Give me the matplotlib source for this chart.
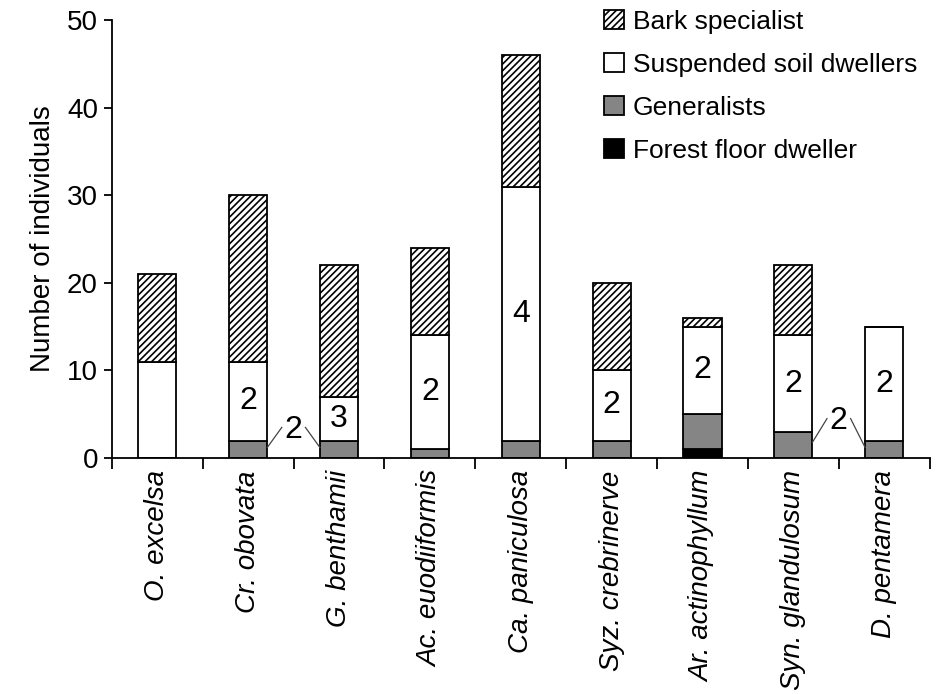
import numpy as np
import matplotlib
matplotlib.use("Agg")
import matplotlib.pyplot as plt

plt.rcParams['font.family'] = ['Liberation Sans', 'DejaVu Sans']
plt.rcParams['hatch.linewidth'] = 1.2

# Datos
especies = ["O. excelsa", "Cr. obovata", "G. benthamii", "Ac. euodiiformis",
            "Ca. paniculosa", "Syz. crebrinerve", "Ar. actinophyllum",
            "Syn. glandulosum", "D. pentamera"]
forest_floor = [0, 0, 0, 0, 0, 0, 1, 0, 0]
generalists = [0, 2, 2, 1, 2, 2, 4, 3, 2]
suspended = [11, 9, 5, 13, 29, 8, 10, 11, 13]
bark = [10, 19, 15, 10, 15, 10, 1, 8, 0]

# Numero de especies dentro del segmento de suelo suspendido
etiquetas_susp = ["", "2", "3", "2", "4", "2", "2", "2", "2"]
# Numero de especies compartido por dos barras de generalistas
etiquetas_gen = [(1, 2, "2"), (7, 8, "2")]

fig = plt.figure(figsize=(9.4, 6.94), dpi=100)
ax = fig.add_axes([0.119, 0.340, 0.870, 0.631])

x = np.arange(len(especies))
ancho = 0.42
ff = np.array(forest_floor)
gen = np.array(generalists)
sus = np.array(suspended)
bk = np.array(bark)

ax.bar(x, ff, ancho, color='black', edgecolor='black', linewidth=1.3,
       label='Forest floor dweller')
ax.bar(x, gen, ancho, bottom=ff, color='#858585', edgecolor='black',
       linewidth=1.3, label='Generalists')
ax.bar(x, sus, ancho, bottom=ff + gen, color='white', edgecolor='black',
       linewidth=1.3, label='Suspended soil dwellers')
ax.bar(x, bk, ancho, bottom=ff + gen + sus, color='white', edgecolor='black',
       linewidth=1.3, hatch='/////', label='Bark specialist')

# Numeros dentro de las barras
for i, txt in enumerate(etiquetas_susp):
    if txt:
        ymid = ff[i] + gen[i] + sus[i] / 2
        ax.text(x[i], ymid, txt, ha='center', va='center', fontsize=23)

# Numeros con lineas guia entre barras vecinas
for a, b, txt in etiquetas_gen:
    ya = ff[a] + gen[a] * 0.6
    yb = ff[b] + gen[b] * 0.6
    ymid = max(ff[a] + gen[a], ff[b] + gen[b]) + 1.2
    xm = (x[a] + x[b]) / 2
    ax.text(xm, ymid, txt, ha='center', va='center', fontsize=23)
    ax.plot([x[a] + ancho / 2, xm - 0.13], [ya, ymid + 0.3], color='#444444', lw=0.9)
    ax.plot([xm + 0.13, x[b] - ancho / 2], [ymid + 0.3, yb], color='#444444', lw=0.9)

ax.set_xlim(-0.5, len(especies) - 0.5)
ax.set_ylim(0, 50)
ax.set_yticks(np.arange(0, 51, 10))
ax.set_xticks(np.arange(-0.5, len(especies), 1.0))
ax.set_xticklabels([])
ax.tick_params(axis='y', labelsize=20, length=6, width=1.3, direction='out', pad=4)
ax.tick_params(axis='x', length=8, width=1.3, direction='out')
for i, nombre in enumerate(especies):
    ax.text(x[i], -1.4, nombre, rotation=90, ha='center', va='top',
            fontsize=20, style='italic')

ax.spines['top'].set_visible(False)
ax.spines['right'].set_visible(False)
ax.spines['left'].set_linewidth(1.3)
ax.spines['bottom'].set_linewidth(1.3)
ax.set_ylabel('Number of individuals', fontsize=20, labelpad=8)

handles, labels = ax.get_legend_handles_labels()
fig.legend(handles[::-1], labels[::-1], loc='upper left',
           bbox_to_anchor=(0.617, 1.02), frameon=False, fontsize=19,
           handlelength=0.75, handleheight=0.75, handletextpad=0.35,
           labelspacing=0.72)

fig.savefig('out.png', dpi=100)
